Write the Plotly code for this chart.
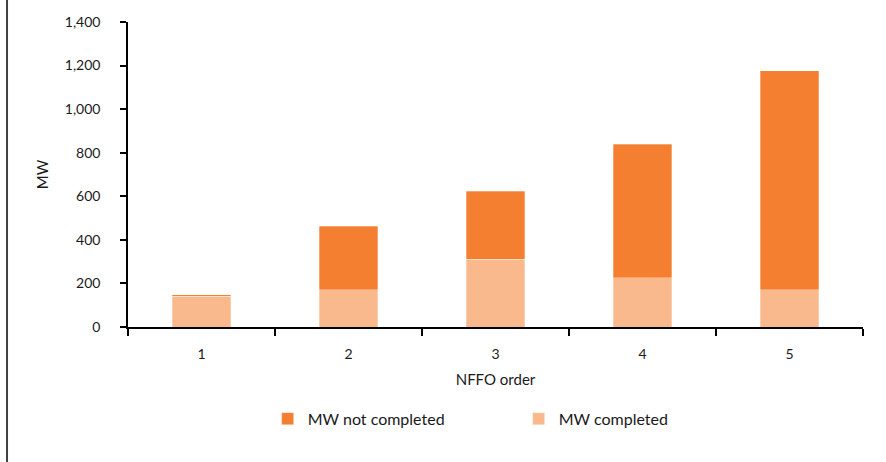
import plotly.graph_objects as go

orders = ["1", "2", "3", "4", "5"]
mw_completed = [141, 170, 312, 225, 170]
mw_not_completed = [6, 293, 312, 615, 1006]

FONT = "Lato"
fig = go.Figure()
fig.add_trace(go.Bar(x=orders, y=mw_completed, name="MW completed",
                     marker=dict(color="#F9B98C", line=dict(color="rgba(255,255,255,0.6)", width=0.5))))
fig.add_trace(go.Bar(x=orders, y=mw_not_completed, name="MW not completed",
                     marker=dict(color="#F47F31", line=dict(color="rgba(255,255,255,0.6)", width=0.5))))

fig.update_layout(
    width=886, height=462,
    margin=dict(l=128, r=23, t=22, b=135),
    barmode="stack", bargap=0.6,
    plot_bgcolor="white", paper_bgcolor="white",
    font=dict(family=FONT, size=14, color="#1a1a1a"),
    showlegend=True,
    legend=dict(orientation="h", x=0.19, xanchor="left", y=-0.245, yanchor="top",
                traceorder="reversed", entrywidth=206, font=dict(size=16)),
    xaxis=dict(type="category", tickson="boundaries", ticks="outside", ticklen=7,
               tickwidth=1.5, tickcolor="black", showline=True, linecolor="black",
               linewidth=1.5, showgrid=False, ticklabelstandoff=13,
               title=dict(text="NFFO order", standoff=14, font=dict(size=15))),
    yaxis=dict(range=[0, 1400], dtick=200, tickformat=",", ticks="outside", ticklen=6,
               tickwidth=1.5, tickcolor="black", showline=True, linecolor="black",
               linewidth=1.5, showgrid=False, zeroline=False, ticklabelstandoff=17,
               title=dict(text="MW", standoff=13, font=dict(size=15))),
)
fig.add_shape(type="line", xref="paper", yref="paper",
              x0=-0.1646, x1=-0.1646, y0=-0.5, y1=1.1,
              line=dict(color="#404040", width=2))
fig.write_html("out.html", config={"displayModeBar": False},
               post_script="document.body.style.margin='0';document.body.style.overflow='hidden';")
